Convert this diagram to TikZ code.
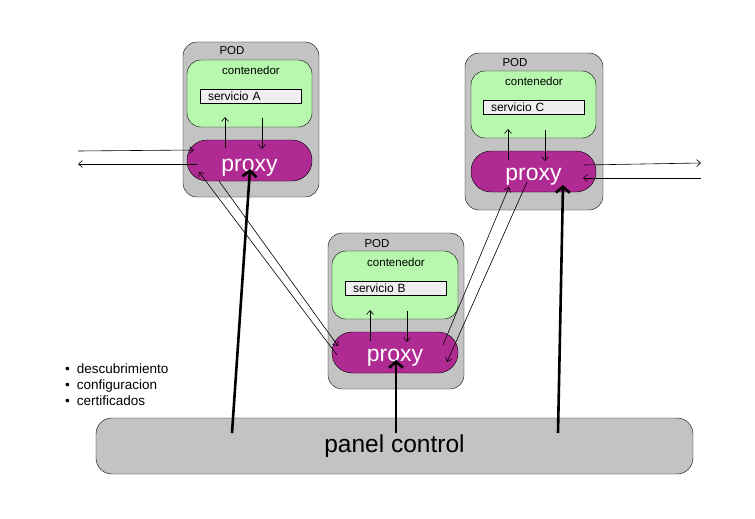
\documentclass[tikz,border=0pt]{standalone}
\usepackage{fontspec}
\setmainfont{Liberation Sans}
\usetikzlibrary{arrows.meta,calc}
\definecolor{podgray}{RGB}{195,195,195}
\definecolor{contgreen}{RGB}{183,247,174}
\definecolor{servgray}{RGB}{239,239,239}
\definecolor{proxypurple}{RGB}{176,42,148}
\tikzset{
  pod/.style={draw=black, fill=podgray, rounded corners=14pt, minimum width=136pt, minimum height=156pt, inner sep=0pt},
  cont/.style={draw=black, fill=contgreen, rounded corners=14pt, minimum width=125pt, minimum height=67pt, inner sep=0pt},
  serv/.style={draw=black, fill=servgray, minimum height=14pt, text width=85pt, align=left, inner xsep=8pt, inner ysep=0pt, font=\fontsize{12}{13}\selectfont},
  proxybox/.style={draw=black, fill=proxypurple, rounded corners=20pt, minimum width=125pt, minimum height=41pt, inner sep=0pt, text=white, font=\fontsize{23}{25}\selectfont, text height=18pt, text depth=0pt},
  smalltxt/.style={font=\fontsize{11.5}{12}\selectfont, inner sep=0pt},
  thinarr/.style={line width=0.6pt, -{Straight Barb[length=4pt,width=7pt]}},
  thickarr/.style={line width=2.6pt, -{Straight Barb[length=6pt,width=14pt]}},
}
\begin{document}
\begin{tikzpicture}[x=1pt,y=-1pt]
\useasboundingbox (0,0) rectangle (755,519);
% panel control
\node[draw=black, fill=podgray, rounded corners=16pt, minimum width=597pt, minimum height=56pt, font=\fontsize{24.5}{27}\selectfont] (panel) at (394.5,446) {panel control};
% Pod A
\node[pod, minimum height=155pt] (podA) at (251,119.5) {};
\node[cont] (contA) at (249.5,93.5) {};
\node[serv] (servA) at (250.5,96) {servicio A};
\node[proxybox, text height=22pt] (proxyA) at (249.5,160.5) {proxy};
\node[smalltxt] (podAl) at (232,50.5) {POD};
\node[smalltxt] (contAl) at (251,70.5) {contenedor};
% Pod C
\node[pod, minimum width=138pt, minimum height=157pt] (podC) at (534,131.5) {};
\node[cont] (contC) at (533.5,104.5) {};
\node[serv] (servC) at (533.5,107) {servicio C};
\node[proxybox] (proxyC) at (533.5,171.5) {proxy};
\node[smalltxt] (podCl) at (515,62.5) {POD};
\node[smalltxt] (contCl) at (534,81.5) {contenedor};
% Pod B
\node[pod] (podB) at (396,311) {};
\node[cont, minimum width=126pt, minimum height=68pt] (contB) at (395,285) {};
\node[serv] (servB) at (395.5,288) {servicio B};
\node[proxybox, minimum width=126pt] (proxyB) at (395,352.5) {proxy};
\node[smalltxt] (podBl) at (377,243.5) {POD};
\node[smalltxt] (contBl) at (396,262.5) {contenedor};
% bullets
\node[font=\fontsize{13.5}{16}\selectfont, align=left, anchor=north west, inner sep=0pt] (bul) at (65,364) {•\hspace{7pt}descubrimiento\\•\hspace{7pt}configuracion\\•\hspace{7pt}certificados};
% coordinates
\coordinate (aUp1) at (225,148); \coordinate (aUp2) at (225,117);
\coordinate (aDn1) at (262,118); \coordinate (aDn2) at (262,149);
\coordinate (cUp1) at (508,160); \coordinate (cUp2) at (508,129);
\coordinate (cDn1) at (545,130); \coordinate (cDn2) at (545,161);
\coordinate (bUp1) at (370,341); \coordinate (bUp2) at (370,310);
\coordinate (bDn1) at (407,311); \coordinate (bDn2) at (407,342);
\coordinate (inL) at (78,151); \coordinate (inLe) at (194,150);
\coordinate (outLs) at (197,164); \coordinate (outL) at (78,164);
\coordinate (outRs) at (584,165); \coordinate (outR) at (701,163);
\coordinate (inR) at (701,178); \coordinate (inRe) at (583,178);
\coordinate (ab1s) at (337,355); \coordinate (ab1e) at (199,172);
\coordinate (ab2s) at (219,181); \coordinate (ab2e) at (338,346);
\coordinate (bc1s) at (443,345); \coordinate (bc1e) at (509,187);
\coordinate (bc2s) at (527,182); \coordinate (bc2e) at (447,362);
\coordinate (pA) at (232,433); \coordinate (pAe) at (250,169);
\coordinate (pB) at (396,433); \coordinate (pBe) at (396,360);
\coordinate (pC) at (558,433); \coordinate (pCe) at (563,185);
% thin arrows
\draw[thinarr] (aUp1) -- (aUp2);
\draw[thinarr] (aDn1) -- (aDn2);
\draw[thinarr] (cUp1) -- (cUp2);
\draw[thinarr] (cDn1) -- (cDn2);
\draw[thinarr] (bUp1) -- (bUp2);
\draw[thinarr] (bDn1) -- (bDn2);
\draw[thinarr] (inL) -- (inLe);
\draw[thinarr] (outLs) -- (outL);
\draw[thinarr] (outRs) -- (outR);
\draw[thinarr] (inR) -- (inRe);
\draw[thinarr] (ab1s) -- (ab1e);
\draw[thinarr] (ab2s) -- (ab2e);
\draw[thinarr] (bc1s) -- (bc1e);
\draw[thinarr] (bc2s) -- (bc2e);
% thick arrows
\draw[thickarr] (pA) -- (pAe);
\draw[thickarr] (pB) -- (pBe);
\draw[thickarr] (pC) -- (pCe);
\end{tikzpicture}
\end{document}
